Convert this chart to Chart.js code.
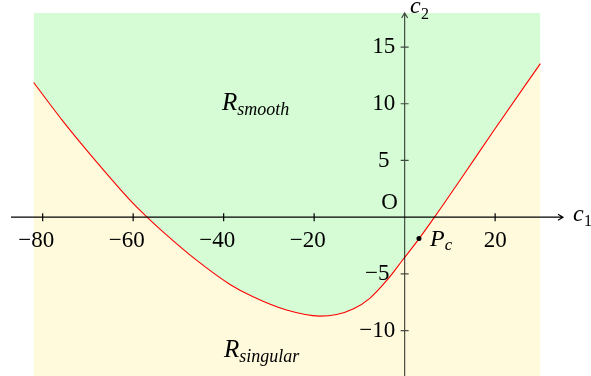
<!DOCTYPE html>
<html>
<head>
<meta charset="utf-8">
<script src="https://cdn.jsdelivr.net/npm/chart.js@4/dist/chart.umd.min.js"></script>
<style>
  body { margin: 0; background: #fff; }
  canvas { display: block; }
</style>
</head>
<body>
<canvas id="chart" width="591" height="376"></canvas>
<script>
// boundary curve between the two regions (c1 -> c2)
const curveX = [-82, -75.4, -68.1, -60.7, -57, -53.4, -46, -38.6, -33.5, -26.1, -18.8, -15, -11.4, -7.7, -4, -0.4, 3, 6.6, 12.5, 19.9, 30];
const curveY = [11.87, 8.4, 4.87, 1.5, 0.03, -1.29, -3.79, -5.93, -7.02, -8.19, -8.72, -8.58, -8.1, -7.15, -5.6, -3.75, -2.0, 0, 3.41, 7.75, 13.54];

// critical point P_c
const pointPc = [3.17, -1.88];

// axis ticks
const xTicks = [-80, -60, -40, -20, 20];
const yTicks = [-10, -5, 5, 10, 15];

const curve = curveX.map((x, i) => ({ x: x, y: curveY[i] }));

const SERIF = '"Liberation Serif", "DejaVu Serif", serif';

// draws the axes, ticks and text labels on top of the filled regions
const axesPlugin = {
  id: "axes",
  afterDatasetsDraw(chart) {
    const ctx = chart.ctx;
    const xs = chart.scales.x;
    const ys = chart.scales.y;
    const x0 = xs.getPixelForValue(0);
    const y0 = ys.getPixelForValue(0);
    const xEnd = xs.getPixelForValue(35);
    const yTop = ys.getPixelForValue(18);

    ctx.save();
    ctx.lineWidth = 1.2;

    // y axis
    ctx.strokeStyle = "rgba(0,0,0,0.7)";
    ctx.beginPath();
    ctx.moveTo(x0, ys.getPixelForValue(-14));
    ctx.lineTo(x0, yTop);
    ctx.moveTo(x0 - 3, yTop + 5);
    ctx.lineTo(x0, yTop);
    ctx.lineTo(x0 + 3, yTop + 5);
    yTicks.forEach((t) => {
      const py = ys.getPixelForValue(t);
      ctx.moveTo(x0 - 4, py);
      ctx.lineTo(x0 + 4, py);
    });
    ctx.stroke();

    // x axis
    ctx.strokeStyle = "#000";
    ctx.beginPath();
    ctx.moveTo(xs.getPixelForValue(-87), y0);
    ctx.lineTo(xEnd, y0);
    ctx.moveTo(xEnd - 5, y0 - 3);
    ctx.lineTo(xEnd, y0);
    ctx.lineTo(xEnd - 5, y0 + 3);
    xTicks.forEach((t) => {
      const px = xs.getPixelForValue(t);
      ctx.moveTo(px, y0 - 4);
      ctx.lineTo(px, y0 + 4);
    });
    ctx.stroke();

    // tick labels: digits centred, minus sign hanging left
    ctx.fillStyle = "#000";
    ctx.font = "23px " + SERIF;
    ctx.textBaseline = "middle";
    ctx.textAlign = "right";
    const label = (v, cx, cy) => {
      const digits = String(Math.abs(v));
      const w = ctx.measureText(digits).width;
      const text = v < 0 ? "\u2212" + digits : digits;
      ctx.fillText(text, cx + w / 2, cy);
    };
    xTicks.forEach((t) => label(t, xs.getPixelForValue(t), y0 + 24));
    yTicks.forEach((t) => label(t, x0 - 21, ys.getPixelForValue(t)));

    ctx.textAlign = "center";
    ctx.fillText("O", x0 - 15, y0 - 14);

    // italic math text
    ctx.textAlign = "left";
    ctx.textBaseline = "alphabetic";
    const sub = (main, s, x, y, size, subSize, drop) => {
      ctx.font = "italic " + size + "px " + SERIF;
      ctx.fillText(main, x, y);
      const w = ctx.measureText(main).width;
      ctx.font = "italic " + subSize + "px " + SERIF;
      ctx.fillText(s, x + w, y + drop);
    };
    sub("R", "smooth", 222, 110, 25, 18, 5);
    sub("R", "singular", 224, 357, 25, 18, 5);
    sub("P", "c", 430, 246, 24, 17, 4);
    sub("c", "", 573, 221, 24, 16, 5);
    sub("c", "", 410, 13, 24, 16, 5);
    ctx.font = "16px " + SERIF;
    ctx.fillText("1", 584, 226);
    ctx.fillText("2", 421, 19);

    ctx.restore();
  },
};

const ctx = document.getElementById("chart").getContext("2d");
new Chart(ctx, {
  type: "line",
  data: {
    datasets: [
      {
        data: [{ x: pointPc[0], y: pointPc[1] }],
        showLine: false,
        pointRadius: 2.5,
        pointBackgroundColor: "#000",
        pointBorderWidth: 0,
        order: 0,
      },
      {
        // boundary curve
        data: curve,
        fill: false,
        borderColor: "#ff0000",
        borderWidth: 1.1,
        pointRadius: 0,
        cubicInterpolationMode: "monotone",
        order: 1,
      },
      {
        // smooth region, above the curve
        data: curve,
        fill: "end",
        backgroundColor: "rgb(213,252,213)",
        borderWidth: 0,
        pointRadius: 0,
        cubicInterpolationMode: "monotone",
        order: 2,
      },
      {
        // singular region, below the curve
        data: curve,
        fill: "start",
        backgroundColor: "rgb(255,250,220)",
        borderWidth: 0,
        pointRadius: 0,
        cubicInterpolationMode: "monotone",
        order: 3,
      },
    ],
  },
  options: {
    responsive: false,
    animation: false,
    layout: { autoPadding: false, padding: { left: 11, right: 28, top: 13, bottom: 0 } },
    plugins: { legend: { display: false }, tooltip: { enabled: false } },
    scales: {
      x: { type: "linear", min: -87, max: 35, display: false },
      y: { type: "linear", min: -14, max: 18, display: false },
    },
  },
  plugins: [axesPlugin],
});
</script>
</body>
</html>
